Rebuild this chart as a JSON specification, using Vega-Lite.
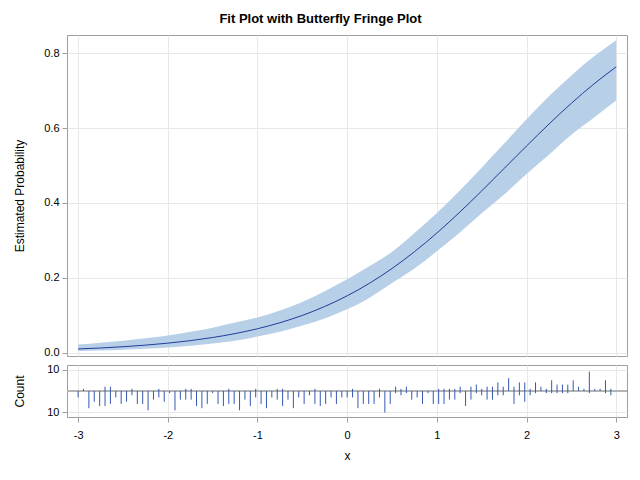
{
  "$schema": "https://vega.github.io/schema/vega-lite/v6.json",
  "background": "white",
  "padding": {"left": 12, "top": 12, "right": 12, "bottom": 10},
  "title": {"text": "Fit Plot with Butterfly Fringe Plot", "font": "Liberation Sans", "fontSize": 13, "fontWeight": "bold", "color": "#000000", "anchor": "middle", "offset": 9},
  "config": {
    "font": "Liberation Sans",
    "view": {"stroke": "#9a9fa3", "strokeWidth": 1},
    "axis": {"domain": false, "grid": true, "gridColor": "#e8e8e8", "gridWidth": 1, "tickColor": "#9a9fa3", "tickSize": 5, "labelColor": "#000000", "labelFont": "Liberation Sans", "labelFontSize": 11, "labelPadding": 3, "titleFont": "Liberation Sans", "titleFontSize": 12, "titleFontWeight": "normal", "titleColor": "#000000"}
  },
  "spacing": 4,
  "datasets": {
    "fit": [
      {"x": -3, "p": 0.0098, "lower": 0.0044, "upper": 0.0216},
      {"x": -2.75, "p": 0.0124, "lower": 0.0059, "upper": 0.0262},
      {"x": -2.5, "p": 0.0158, "lower": 0.0078, "upper": 0.0316},
      {"x": -2.25, "p": 0.0200, "lower": 0.0103, "upper": 0.0384},
      {"x": -2, "p": 0.0253, "lower": 0.0138, "upper": 0.0461},
      {"x": -1.75, "p": 0.0320, "lower": 0.0182, "upper": 0.0558},
      {"x": -1.5, "p": 0.0404, "lower": 0.0242, "upper": 0.0668},
      {"x": -1.25, "p": 0.0509, "lower": 0.0318, "upper": 0.0805},
      {"x": -1, "p": 0.0639, "lower": 0.0429, "upper": 0.0941},
      {"x": -0.75, "p": 0.0799, "lower": 0.0561, "upper": 0.1126},
      {"x": -0.5, "p": 0.0995, "lower": 0.0723, "upper": 0.1356},
      {"x": -0.25, "p": 0.1234, "lower": 0.0915, "upper": 0.1644},
      {"x": 0, "p": 0.1519, "lower": 0.1161, "upper": 0.1962},
      {"x": 0.25, "p": 0.1856, "lower": 0.1469, "upper": 0.2316},
      {"x": 0.5, "p": 0.2249, "lower": 0.1858, "upper": 0.2694},
      {"x": 0.75, "p": 0.2697, "lower": 0.2252, "upper": 0.3195},
      {"x": 1, "p": 0.3197, "lower": 0.2709, "upper": 0.3729},
      {"x": 1.25, "p": 0.3743, "lower": 0.3200, "upper": 0.4322},
      {"x": 1.5, "p": 0.4323, "lower": 0.3723, "upper": 0.4945},
      {"x": 1.75, "p": 0.4923, "lower": 0.4229, "upper": 0.5588},
      {"x": 2, "p": 0.5523, "lower": 0.4775, "upper": 0.6235},
      {"x": 2.25, "p": 0.6109, "lower": 0.5290, "upper": 0.6852},
      {"x": 2.5, "p": 0.6665, "lower": 0.5824, "upper": 0.7410},
      {"x": 2.75, "p": 0.7179, "lower": 0.6281, "upper": 0.7912},
      {"x": 3, "p": 0.7640, "lower": 0.6737, "upper": 0.8352}
    ],
    "fringe": [
      {"x": -3, "up": 0, "down": -3}, {"x": -2.94, "up": 1, "down": 0}, {"x": -2.88, "up": 0, "down": -8}, {"x": -2.82, "up": 0, "down": -5},
      {"x": -2.76, "up": 0, "down": -7}, {"x": -2.7, "up": 2, "down": -7}, {"x": -2.64, "up": 2, "down": -6}, {"x": -2.58, "up": 0, "down": -3},
      {"x": -2.52, "up": 0, "down": -6}, {"x": -2.46, "up": 0, "down": -5}, {"x": -2.4, "up": 1, "down": -2}, {"x": -2.34, "up": 0, "down": -6},
      {"x": -2.28, "up": 0, "down": -6}, {"x": -2.22, "up": 0, "down": -9}, {"x": -2.16, "up": 0, "down": -4}, {"x": -2.1, "up": 1, "down": -3},
      {"x": -2.04, "up": 0, "down": -5}, {"x": -1.98, "up": 0, "down": -1}, {"x": -1.92, "up": 0, "down": -9}, {"x": -1.86, "up": 0, "down": -4},
      {"x": -1.8, "up": 1, "down": -4}, {"x": -1.74, "up": 1, "down": -4}, {"x": -1.68, "up": 0, "down": -7}, {"x": -1.62, "up": 0, "down": -8},
      {"x": -1.56, "up": 0, "down": -6}, {"x": -1.5, "up": 0, "down": -1}, {"x": -1.44, "up": 0, "down": -6}, {"x": -1.38, "up": 0, "down": -7},
      {"x": -1.32, "up": 1, "down": -6}, {"x": -1.26, "up": 0, "down": -6}, {"x": -1.2, "up": 0, "down": -9}, {"x": -1.14, "up": 0, "down": -4},
      {"x": -1.08, "up": 0, "down": -7}, {"x": -1.02, "up": 1, "down": -3}, {"x": -0.96, "up": 0, "down": -6}, {"x": -0.9, "up": 0, "down": -8},
      {"x": -0.84, "up": 0, "down": -3}, {"x": -0.78, "up": 1, "down": -4}, {"x": -0.72, "up": 1, "down": -7}, {"x": -0.66, "up": 0, "down": -4},
      {"x": -0.6, "up": 0, "down": -8}, {"x": -0.54, "up": 0, "down": -3}, {"x": -0.48, "up": 0, "down": -6}, {"x": -0.42, "up": 0, "down": -2},
      {"x": -0.36, "up": 1, "down": -6}, {"x": -0.3, "up": 0, "down": -7}, {"x": -0.24, "up": 0, "down": -6}, {"x": -0.18, "up": 0, "down": -3},
      {"x": -0.12, "up": 0, "down": -6}, {"x": -0.06, "up": 0, "down": -3}, {"x": 0, "up": 0, "down": -3}, {"x": 0.06, "up": 1, "down": -3},
      {"x": 0.12, "up": 0, "down": -8}, {"x": 0.18, "up": 0, "down": -6}, {"x": 0.24, "up": 0, "down": -6}, {"x": 0.3, "up": 0, "down": -6},
      {"x": 0.36, "up": 1, "down": -3}, {"x": 0.42, "up": 0, "down": -10}, {"x": 0.48, "up": 0, "down": -6}, {"x": 0.54, "up": 2, "down": -1},
      {"x": 0.6, "up": 1, "down": -2}, {"x": 0.66, "up": 2, "down": -1}, {"x": 0.72, "up": 0, "down": -4}, {"x": 0.78, "up": 0, "down": -3},
      {"x": 0.84, "up": 0, "down": -6}, {"x": 0.9, "up": 0, "down": -1}, {"x": 0.96, "up": 0, "down": -6}, {"x": 1.02, "up": 1, "down": -6},
      {"x": 1.08, "up": 1, "down": -6}, {"x": 1.14, "up": 1, "down": -4}, {"x": 1.2, "up": 1, "down": -4}, {"x": 1.26, "up": 2, "down": -1},
      {"x": 1.32, "up": 0, "down": -7}, {"x": 1.38, "up": 2, "down": -4}, {"x": 1.44, "up": 3, "down": -1}, {"x": 1.5, "up": 1, "down": -2},
      {"x": 1.56, "up": 2, "down": -4}, {"x": 1.62, "up": 2, "down": -4}, {"x": 1.68, "up": 4, "down": -2}, {"x": 1.74, "up": 2, "down": -2},
      {"x": 1.8, "up": 6, "down": 0}, {"x": 1.86, "up": 2, "down": -6}, {"x": 1.92, "up": 4, "down": -2}, {"x": 1.98, "up": 4, "down": -5},
      {"x": 2.04, "up": 1, "down": -2}, {"x": 2.1, "up": 4, "down": -1}, {"x": 2.16, "up": 2, "down": 0}, {"x": 2.22, "up": 1, "down": -1},
      {"x": 2.28, "up": 5, "down": -1}, {"x": 2.34, "up": 3, "down": -1}, {"x": 2.4, "up": 3, "down": -1}, {"x": 2.46, "up": 3, "down": -1},
      {"x": 2.52, "up": 5, "down": 0}, {"x": 2.58, "up": 2, "down": 0}, {"x": 2.64, "up": 1, "down": 0}, {"x": 2.7, "up": 9, "down": -1},
      {"x": 2.76, "up": 1, "down": 0}, {"x": 2.82, "up": 1, "down": 0}, {"x": 2.88, "up": 5, "down": -1}, {"x": 2.94, "up": 1, "down": -2}
    ]
  },
  "vconcat": [
    {
      "width": 560,
      "height": 321,
      "data": {"name": "fit"},
      "layer": [
        {
          "mark": {"type": "area", "color": "#b8cfe8", "opacity": 1, "interpolate": "natural"},
          "encoding": {
            "x": {"field": "x", "type": "quantitative", "scale": {"domain": [-3.124, 3.12], "nice": false, "zero": false},
                  "axis": {"values": [-3, -2, -1, 0, 1, 2, 3], "labels": false, "ticks": false, "title": null}},
            "y": {"field": "lower", "type": "quantitative", "scale": {"domain": [-0.009, 0.849], "nice": false, "zero": false},
                  "axis": {"values": [0, 0.2, 0.4, 0.6, 0.8], "format": ".1f", "title": "Estimated Probability", "titleX": -41}},
            "y2": {"field": "upper"}
          }
        },
        {
          "mark": {"type": "line", "color": "#1f3d99", "strokeWidth": 1, "interpolate": "natural"},
          "encoding": {
            "x": {"field": "x", "type": "quantitative"},
            "y": {"field": "p", "type": "quantitative"}
          }
        }
      ]
    },
    {
      "width": 560,
      "height": 52,
      "data": {"name": "fringe"},
      "layer": [
        {
          "data": {"values": [{"ref": 0}]},
          "mark": {"type": "rule", "color": "#b4b4b4", "strokeWidth": 2},
          "encoding": {"y": {"field": "ref", "type": "quantitative"}}
        },
        {
          "mark": {"type": "rule", "color": "#3558b0", "strokeWidth": 1},
          "encoding": {
            "x": {"field": "x", "type": "quantitative", "scale": {"domain": [-3.124, 3.12], "nice": false, "zero": false},
                  "axis": {"values": [-3, -2, -1, 0, 1, 2, 3], "labelExpr": "'' + datum.value", "title": "x", "titlePadding": 10, "labelPadding": 7}},
            "y": {"field": "up", "type": "quantitative", "scale": {"domain": [-12.1, 12.1], "nice": false, "zero": false},
                  "axis": {"values": [-10, 0, 10], "labelExpr": "'' + abs(datum.value)", "title": "Count", "titleX": -41}},
            "y2": {"datum": 0}
          }
        },
        {
          "mark": {"type": "rule", "color": "#3558b0", "strokeWidth": 1},
          "encoding": {
            "x": {"field": "x", "type": "quantitative"},
            "y": {"field": "down", "type": "quantitative"},
            "y2": {"datum": 0}
          }
        }
      ]
    }
  ]
}
